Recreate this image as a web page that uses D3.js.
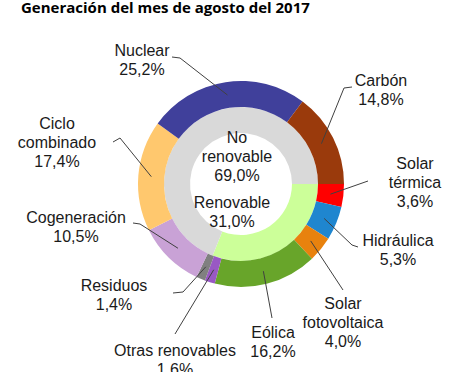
<!DOCTYPE html>
<html><head><meta charset="utf-8">
<script src="https://cdn.jsdelivr.net/npm/d3@7"></script>
<style>
html,body{margin:0;padding:0;background:#fff;}
svg{display:block;}
</style></head>
<body>
<svg id="chart" width="453" height="372"></svg>
<script>
// ---- data ----
const title = "Generación del mes de agosto del 2017";
const outerNames = ["Solar térmica","Hidráulica","Solar fotovoltaica","Eólica","Otras renovables","Residuos","Cogeneración","Ciclo combinado","Nuclear","Carbón"];
const outerValues = [3.6, 5.3, 4.0, 16.2, 1.6, 1.4, 10.5, 17.4, 25.2, 14.8];
const outerLabelLines = [["Solar","térmica","3,6%"],["Hidráulica","5,3%"],["Solar","fotovoltaica","4,0%"],["Eólica","16,2%"],["Otras renovables","1,6%"],["Residuos","1,4%"],["Cogeneración","10,5%"],["Ciclo","combinado","17,4%"],["Nuclear","25,2%"],["Carbón","14,8%"]];
const innerNames = ["Renovable","No renovable"];
const innerValues = [31.0, 69.0];
const innerLabelLines = [["Renovable","31,0%"],["No","renovable","69,0%"]];

// ---- styles / layout ----
const outerColors = ["#ff0000","#1f86cf","#e8820e","#68a52a","#9958c4","#808080","#c9a2d6","#ffc86e","#40409b","#9a3a0c"];
const innerColors = ["#ccff99","#d9d9d9"];
const cx = 241, cy = 184;
const rHole = 51, rMid = 77, rOut = 103;
const labelPos = [
  {x:415, y:163, lead:[[368,181]]},
  {x:398, y:240, lead:[[358,247],[352,245]]},
  {x:343, y:303, lead:[[343,290]]},
  {x:273, y:332, lead:[[272,318]]},
  {x:175, y:350, lead:[[175,334]]},
  {x:114, y:285, lead:[[173,293],[183,292]]},
  {x:76,  y:217, lead:[[133,223],[140,224]]},
  {x:57,  y:123, lead:[[113,142],[120,138]]},
  {x:142, y:50,  lead:[[172,57],[180,58]]},
  {x:381, y:80,  lead:[[352,87],[344,88]]}
];
const innerLabelPos = [{x:232,y:202},{x:237,y:137}];
const lineH = 19;

const svg = d3.select("#chart");
svg.append("text").attr("x",21).attr("y",13)
  .attr("font-family","'Open Sans', sans-serif").attr("font-weight",700)
  .attr("font-size",15).attr("fill","#000").text(title);

const g = svg.append("g").attr("transform",`translate(${cx},${cy})`);
const pie = d3.pie().sort(null).value(d=>d).startAngle(Math.PI/2).endAngle(Math.PI/2+2*Math.PI);
const outerArcs = pie(outerValues);
const innerArcs = pie(innerValues);
const arcOuter = d3.arc().innerRadius(rMid).outerRadius(rOut);
const arcInner = d3.arc().innerRadius(rHole).outerRadius(rMid);

g.selectAll("path.in").data(innerArcs).enter().append("path")
  .attr("d",arcInner).attr("fill",(d,i)=>innerColors[i]);
g.selectAll("path.out").data(outerArcs).enter().append("path")
  .attr("d",arcOuter).attr("fill",(d,i)=>outerColors[i]);

const font = "'Liberation Sans', Arial, sans-serif";
const centroidArc = d3.arc().innerRadius(82).outerRadius(98);
outerArcs.forEach((a,i)=>{
  const c = centroidArc.centroid(a);
  const pts = labelPos[i].lead.concat([[c[0]+cx, c[1]+cy]]);
  svg.append("path").attr("d", d3.line()(pts)).attr("fill","none")
    .attr("stroke","#404040").attr("stroke-width",1);
});
outerLabelLines.forEach((lines,i)=>{
  const t = svg.append("text").attr("font-family",font).attr("font-size",16)
    .attr("fill","#1a1a1a").attr("text-anchor","middle");
  lines.forEach((s,j)=>{
    t.append("tspan").attr("x",labelPos[i].x).attr("y",labelPos[i].y + j*lineH).attr("dy","0.35em").text(s);
  });
});
innerLabelLines.forEach((lines,i)=>{
  const t = svg.append("text").attr("font-family",font).attr("font-size",16)
    .attr("fill","#1a1a1a").attr("text-anchor","middle");
  lines.forEach((s,j)=>{
    t.append("tspan").attr("x",innerLabelPos[i].x).attr("y",innerLabelPos[i].y + j*lineH).attr("dy","0.35em").text(s);
  });
});
</script>
</body></html>
